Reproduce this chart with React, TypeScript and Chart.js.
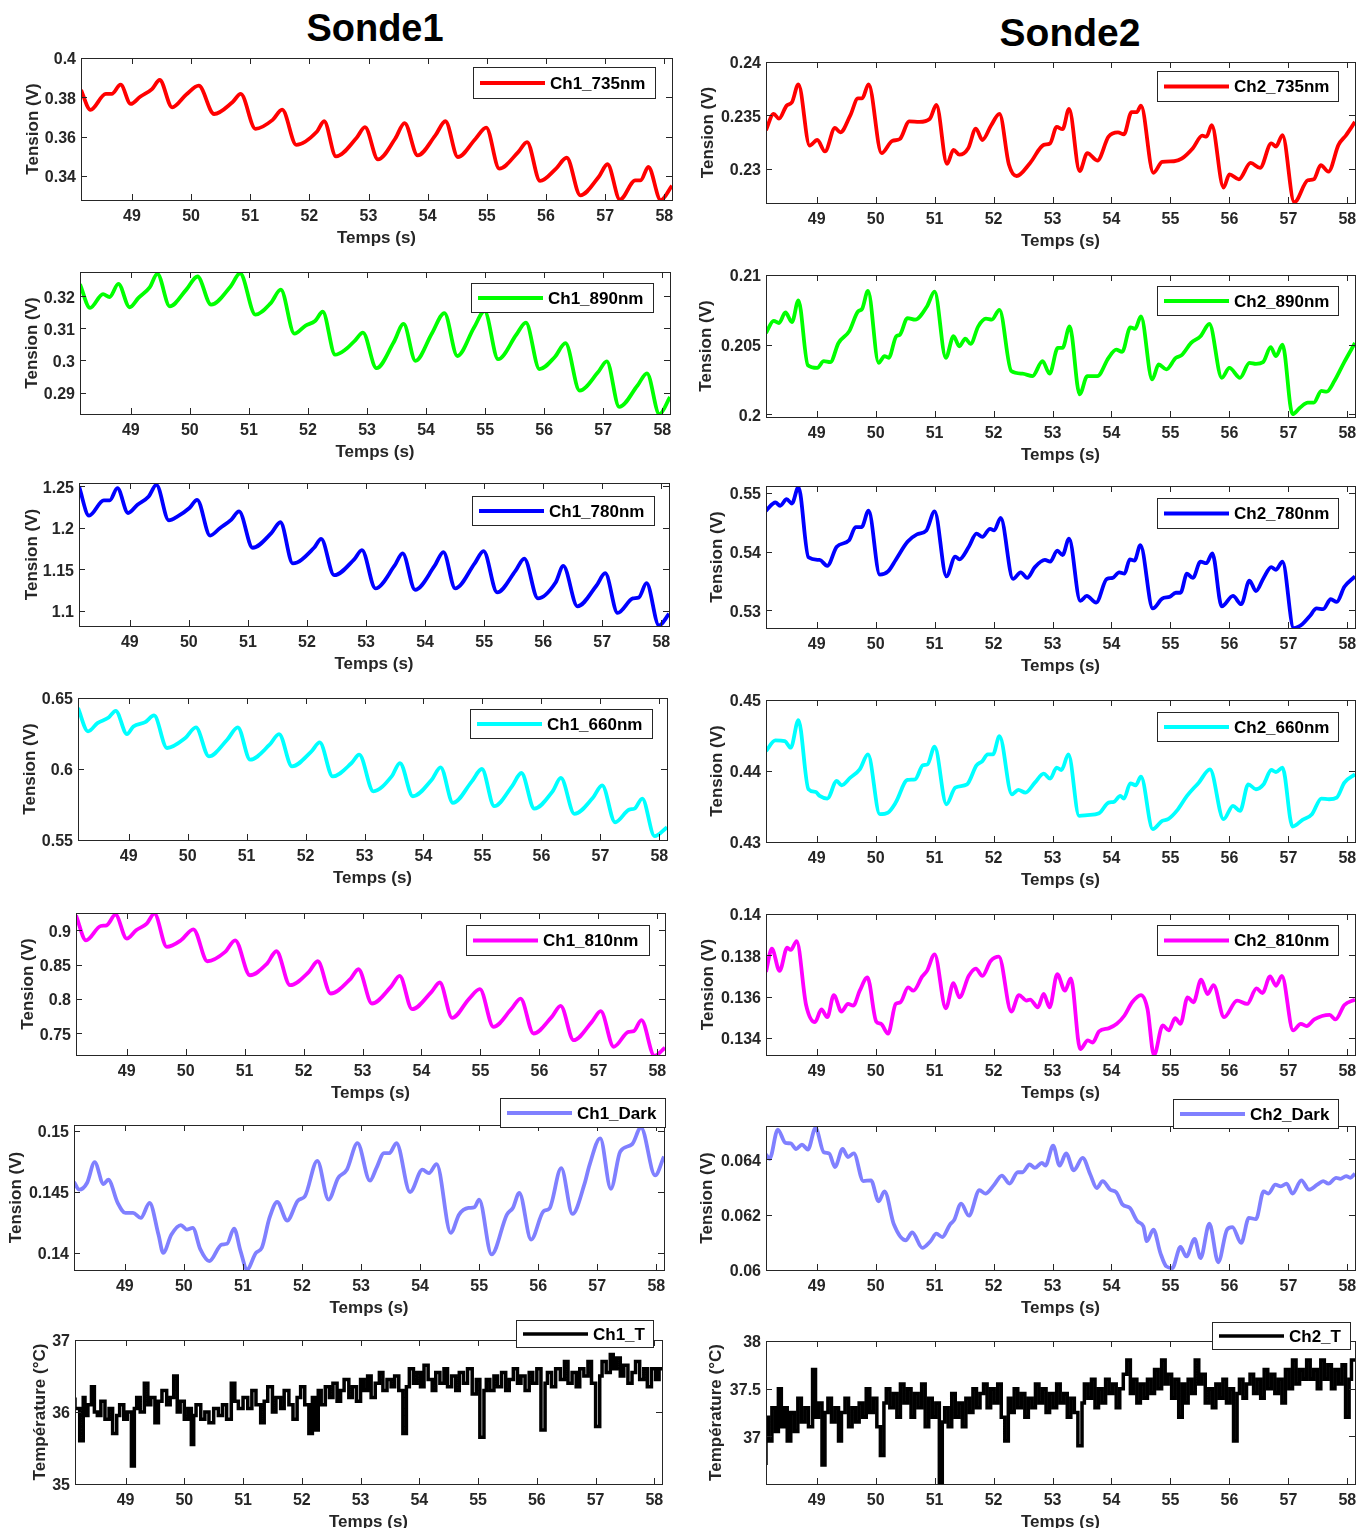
import React, { useEffect, useRef } from "react";
import { Chart, registerables } from "chart.js";

Chart.register(...registerables);

const FONT = "'Liberation Sans', Arial, Helvetica, sans-serif";
const AXIS_COLOR = "#262626";

// ---------- shared axis data ----------
const timeMin = 48.14;
const timeMax = 58.13;
const timeTicks = [49, 50, 51, 52, 53, 54, 55, 56, 57, 58];

// ---------- Sonde1 series: [time (s), value] ----------
const ch1_735nm: [number, number][] = [
  [48.14, 0.3837], [48.3, 0.3736], [48.56, 0.3817], [48.66, 0.3817], [48.81, 0.3864], [48.98, 0.3766],
  [49.14, 0.3803], [49.34, 0.3842], [49.47, 0.3888], [49.68, 0.3749], [49.92, 0.3814], [50.13, 0.3859],
  [50.39, 0.3715], [50.7, 0.3775], [50.84, 0.3817], [51.09, 0.3639], [51.38, 0.3685], [51.54, 0.3737],
  [51.78, 0.3558], [52.13, 0.3626], [52.25, 0.3678], [52.45, 0.3499], [52.8, 0.3594], [52.94, 0.3648],
  [53.16, 0.3484], [53.45, 0.3589], [53.61, 0.3668], [53.83, 0.3504], [54.13, 0.3606], [54.3, 0.3678],
  [54.51, 0.3496], [54.81, 0.3589], [54.99, 0.3645], [55.21, 0.3437], [55.53, 0.3521], [55.68, 0.3572],
  [55.9, 0.3374], [56.17, 0.3437], [56.35, 0.3492], [56.58, 0.3301], [56.89, 0.3394], [57.04, 0.3459],
  [57.25, 0.3279], [57.51, 0.3377], [57.6, 0.3377], [57.73, 0.3445], [57.94, 0.3276], [58.13, 0.335],
];
const ch1_890nm: [number, number][] = [
  [48.14, 0.3238], [48.31, 0.3164], [48.53, 0.3207], [48.64, 0.3198], [48.79, 0.3239], [48.98, 0.3166],
  [49.13, 0.3195], [49.32, 0.3228], [49.45, 0.327], [49.66, 0.3169], [49.94, 0.3221], [50.13, 0.3262],
  [50.36, 0.3174], [50.69, 0.3231], [50.85, 0.3272], [51.11, 0.3143], [51.37, 0.3179], [51.54, 0.3221],
  [51.77, 0.3084], [51.96, 0.3109], [52.12, 0.3123], [52.25, 0.3152], [52.46, 0.3018], [52.64, 0.3035],
  [52.8, 0.3063], [52.93, 0.3087], [53.16, 0.2976], [53.45, 0.3056], [53.62, 0.3114], [53.82, 0.2999],
  [54.1, 0.3085], [54.31, 0.3148], [54.53, 0.3014], [54.81, 0.3102], [54.99, 0.3154], [55.22, 0.3004],
  [55.53, 0.3081], [55.69, 0.3118], [55.92, 0.2973], [56.18, 0.3011], [56.36, 0.3054], [56.6, 0.2906],
  [56.91, 0.2963], [57.06, 0.2997], [57.27, 0.2855], [57.58, 0.2922], [57.74, 0.296], [57.95, 0.2832],
  [58.13, 0.2886],
];
const ch1_780nm: [number, number][] = [
  [48.14, 1.2498], [48.31, 1.2147], [48.56, 1.233], [48.66, 1.233], [48.79, 1.2478], [48.97, 1.2179],
  [49.13, 1.2279], [49.32, 1.2378], [49.45, 1.2517], [49.66, 1.2092], [49.81, 1.2139], [50.01, 1.2239],
  [50.14, 1.2338], [50.36, 1.1908], [50.53, 1.2], [50.72, 1.21], [50.85, 1.2199], [51.08, 1.1761],
  [51.4, 1.194], [51.55, 1.2068], [51.76, 1.1574], [52.12, 1.1761], [52.24, 1.1869], [52.46, 1.1431],
  [52.8, 1.1622], [52.93, 1.1733], [53.16, 1.1272], [53.48, 1.1542], [53.62, 1.1694], [53.83, 1.1256],
  [54.16, 1.1542], [54.31, 1.1709], [54.51, 1.1272], [54.84, 1.1574], [54.99, 1.1721], [55.22, 1.1224],
  [55.53, 1.1483], [55.68, 1.163], [55.91, 1.1152], [56.21, 1.1343], [56.34, 1.1542], [56.58, 1.1057],
  [56.9, 1.1304], [57.05, 1.1455], [57.26, 1.0977], [57.52, 1.1152], [57.62, 1.1164], [57.75, 1.1335],
  [57.96, 1.0826], [58.13, 1.0966],
];
const ch1_660nm: [number, number][] = [
  [48.14, 0.6429], [48.31, 0.6265], [48.47, 0.6323], [48.66, 0.6363], [48.78, 0.641], [48.97, 0.6246],
  [49.08, 0.63], [49.28, 0.633], [49.43, 0.6377], [49.65, 0.6148], [49.96, 0.6218], [50.14, 0.6293],
  [50.36, 0.6089], [50.67, 0.6206], [50.85, 0.6293], [51.06, 0.6066], [51.39, 0.6171], [51.55, 0.6246],
  [51.77, 0.6019], [52.1, 0.6124], [52.24, 0.6187], [52.46, 0.5948], [52.78, 0.6042], [52.91, 0.6101],
  [53.15, 0.5843], [53.46, 0.5948], [53.6, 0.6042], [53.82, 0.5808], [54.14, 0.5925], [54.29, 0.6012],
  [54.5, 0.5761], [54.82, 0.5913], [54.99, 0.6], [55.2, 0.5738], [55.5, 0.5878], [55.66, 0.5972],
  [55.88, 0.5721], [56.19, 0.5843], [56.33, 0.5937], [56.56, 0.5684], [56.87, 0.5796], [57.03, 0.5885],
  [57.25, 0.5625], [57.49, 0.5714], [57.58, 0.5721], [57.71, 0.5792], [57.92, 0.5527], [58.13, 0.559],
];
const ch1_810nm: [number, number][] = [
  [48.14, 0.9216], [48.31, 0.8853], [48.56, 0.9061], [48.66, 0.9071], [48.81, 0.9226], [49.0, 0.8878],
  [49.16, 0.8999], [49.34, 0.9095], [49.47, 0.9241], [49.68, 0.8757], [49.92, 0.8853], [50.13, 0.9013],
  [50.37, 0.8548], [50.67, 0.8684], [50.84, 0.8853], [51.09, 0.8345], [51.38, 0.8515], [51.54, 0.8694],
  [51.77, 0.82], [52.09, 0.8394], [52.24, 0.8548], [52.46, 0.8079], [52.8, 0.8297], [52.93, 0.8432],
  [53.16, 0.7934], [53.48, 0.8176], [53.63, 0.8335], [53.84, 0.7851], [54.17, 0.8103], [54.31, 0.8239],
  [54.52, 0.7726], [54.81, 0.8006], [54.99, 0.8142], [55.22, 0.7595], [55.53, 0.7861], [55.68, 0.8006],
  [55.9, 0.7498], [56.21, 0.774], [56.36, 0.79], [56.58, 0.7401], [56.89, 0.7667], [57.04, 0.7822],
  [57.26, 0.7305], [57.51, 0.7522], [57.6, 0.7532], [57.73, 0.7692], [57.95, 0.7174], [58.13, 0.729],
];
const ch1_dark: [number, number][] = [
  [48.14, 0.14582], [48.23, 0.14519], [48.36, 0.14574], [48.49, 0.14745], [48.64, 0.14565], [48.72, 0.14601],
  [48.88, 0.1441], [49.01, 0.14328], [49.14, 0.14328], [49.27, 0.14287], [49.42, 0.1441], [49.57, 0.14151],
  [49.65, 0.14001], [49.79, 0.14151], [49.95, 0.14228], [50.05, 0.14192], [50.15, 0.14206], [50.28, 0.14029],
  [50.43, 0.13933], [50.64, 0.14069], [50.73, 0.14075], [50.85, 0.142], [50.96, 0.14015], [51.07, 0.13865],
  [51.22, 0.14001], [51.32, 0.14042], [51.45, 0.14287], [51.58, 0.14418], [51.75, 0.14266], [51.93, 0.14429],
  [52.05, 0.14465], [52.26, 0.14756], [52.45, 0.14437], [52.61, 0.14614], [52.76, 0.14683], [52.94, 0.14901],
  [53.15, 0.14593], [53.26, 0.14696], [53.39, 0.14819], [53.48, 0.14819], [53.6, 0.14901], [53.83, 0.145],
  [54.04, 0.14683], [54.15, 0.14655], [54.28, 0.14729], [54.52, 0.14165], [54.66, 0.14315], [54.82, 0.14369],
  [54.92, 0.14375], [55.0, 0.14437], [55.21, 0.13988], [55.47, 0.14315], [55.57, 0.14369], [55.68, 0.14492],
  [55.88, 0.1411], [56.09, 0.14342], [56.19, 0.14364], [56.39, 0.14696], [56.58, 0.1432], [56.78, 0.1456],
  [56.87, 0.14723], [57.05, 0.14941], [57.23, 0.14527], [57.39, 0.14832], [57.59, 0.14892], [57.74, 0.15029],
  [57.98, 0.14636], [58.13, 0.14792],
];
const ch1_T: [number, number][] = [
  [48.14, 36.2], [48.22, 36.05], [48.28, 35.6], [48.31, 36.2], [48.36, 35.95], [48.42, 36.1], [48.47, 36.35],
  [48.52, 36.0], [48.58, 35.95], [48.65, 36.15], [48.72, 35.9], [48.78, 36.05], [48.85, 35.7], [48.9, 35.95],
  [48.97, 36.1], [49.03, 35.9], [49.1, 36.0], [49.15, 35.25], [49.19, 36.05], [49.25, 36.2], [49.32, 36.0],
  [49.38, 36.4], [49.43, 36.1], [49.5, 36.2], [49.56, 35.85], [49.62, 36.15], [49.7, 36.3], [49.76, 36.1],
  [49.82, 36.2], [49.88, 36.5], [49.93, 36.0], [50.0, 36.15], [50.06, 35.9], [50.12, 36.05], [50.16, 35.55],
  [50.2, 35.95], [50.28, 36.1], [50.35, 35.9], [50.42, 36.0], [50.5, 35.85], [50.58, 36.05], [50.65, 35.95],
  [50.72, 36.1], [50.8, 35.9], [50.86, 36.4], [50.92, 36.15], [51.0, 36.05], [51.08, 36.2], [51.15, 36.05],
  [51.22, 36.3], [51.3, 36.1], [51.36, 35.85], [51.42, 36.15], [51.5, 36.35], [51.56, 36.0], [51.64, 36.2],
  [51.7, 36.05], [51.78, 36.3], [51.85, 36.1], [51.92, 35.9], [51.98, 36.2], [52.05, 36.35], [52.12, 36.1],
  [52.18, 35.7], [52.22, 36.2], [52.28, 35.75], [52.33, 36.3], [52.4, 36.1], [52.47, 36.35], [52.53, 36.2],
  [52.6, 36.4], [52.66, 36.15], [52.72, 36.3], [52.8, 36.45], [52.86, 36.2], [52.93, 36.35], [53.0, 36.15],
  [53.06, 36.45], [53.12, 36.3], [53.18, 36.5], [53.25, 36.2], [53.32, 36.4], [53.38, 36.55], [53.45, 36.3],
  [53.52, 36.45], [53.58, 36.35], [53.65, 36.5], [53.72, 36.3], [53.78, 35.7], [53.83, 36.35], [53.9, 36.6],
  [53.96, 36.4], [54.02, 36.55], [54.08, 36.35], [54.15, 36.65], [54.22, 36.45], [54.28, 36.3], [54.35, 36.55],
  [54.42, 36.4], [54.48, 36.6], [54.55, 36.35], [54.62, 36.5], [54.68, 36.3], [54.75, 36.55], [54.82, 36.4],
  [54.9, 36.6], [54.97, 36.25], [55.03, 36.45], [55.1, 35.65], [55.14, 36.3], [55.2, 36.45], [55.27, 36.3],
  [55.33, 36.5], [55.4, 36.35], [55.47, 36.55], [55.53, 36.3], [55.6, 36.45], [55.67, 36.6], [55.73, 36.4],
  [55.8, 36.5], [55.87, 36.3], [55.93, 36.55], [56.0, 36.4], [56.07, 36.6], [56.14, 35.75], [56.18, 36.4],
  [56.25, 36.55], [56.32, 36.35], [56.4, 36.6], [56.47, 36.45], [56.53, 36.7], [56.6, 36.4], [56.67, 36.55],
  [56.73, 36.35], [56.8, 36.6], [56.87, 36.5], [56.93, 36.7], [57.0, 36.4], [57.07, 35.8], [57.11, 36.5],
  [57.18, 36.7], [57.25, 36.55], [57.3, 36.8], [57.36, 36.6], [57.42, 36.75], [57.48, 36.5], [57.55, 36.65],
  [57.62, 36.4], [57.68, 36.55], [57.75, 36.7], [57.82, 36.45], [57.88, 36.6], [57.95, 36.35], [58.02, 36.6],
  [58.08, 36.45], [58.13, 36.6],
];

// ---------- Sonde2 series: [time (s), value] ----------
const ch2_735nm: [number, number][] = [
  [48.14, 0.23362], [48.27, 0.23515], [48.36, 0.23469], [48.49, 0.23592], [48.58, 0.23623], [48.69, 0.23791],
  [48.88, 0.23218], [49.01, 0.2327], [49.14, 0.23163], [49.31, 0.23383], [49.4, 0.23341], [49.57, 0.235],
  [49.7, 0.23659], [49.77, 0.23659], [49.88, 0.23791], [50.1, 0.23147], [50.28, 0.23261], [50.41, 0.23279],
  [50.57, 0.23445], [50.74, 0.23439], [50.92, 0.23469], [51.03, 0.23598], [51.21, 0.23046], [51.32, 0.23178],
  [51.42, 0.23132], [51.57, 0.23193], [51.7, 0.23377], [51.81, 0.2327], [51.96, 0.23408], [52.1, 0.23515],
  [52.26, 0.2304], [52.39, 0.22933], [52.62, 0.23055], [52.85, 0.23224], [52.96, 0.23239], [53.07, 0.23393],
  [53.17, 0.23371], [53.28, 0.23561], [53.46, 0.22979], [53.59, 0.23147], [53.76, 0.23077], [53.95, 0.23301],
  [54.11, 0.23341], [54.21, 0.23322], [54.34, 0.23531], [54.43, 0.23531], [54.5, 0.23592], [54.71, 0.22963],
  [54.86, 0.23064], [55.06, 0.23071], [55.19, 0.23095], [55.38, 0.23193], [55.54, 0.2331], [55.61, 0.23301],
  [55.7, 0.23408], [55.9, 0.22825], [56.0, 0.22948], [56.16, 0.22902], [56.36, 0.23055], [56.52, 0.23009],
  [56.71, 0.23239], [56.79, 0.23209], [56.9, 0.23316], [57.1, 0.22687], [57.33, 0.22893], [57.43, 0.22902],
  [57.55, 0.23034], [57.68, 0.22973], [57.85, 0.23224], [57.98, 0.23316], [58.13, 0.23439],
];
const ch2_890nm: [number, number][] = [
  [48.14, 0.20583], [48.27, 0.20671], [48.36, 0.20655], [48.47, 0.20731], [48.58, 0.20662], [48.69, 0.20817],
  [48.85, 0.20352], [49.01, 0.20333], [49.12, 0.20381], [49.23, 0.20374], [49.37, 0.20512], [49.55, 0.20595],
  [49.7, 0.20738], [49.77, 0.20757], [49.87, 0.20886], [50.05, 0.20369], [50.15, 0.20417], [50.22, 0.20405],
  [50.35, 0.2056], [50.41, 0.20571], [50.54, 0.2069], [50.67, 0.20679], [50.87, 0.20774], [51.0, 0.20881],
  [51.19, 0.20405], [51.32, 0.2056], [51.42, 0.20488], [51.52, 0.20543], [51.61, 0.20505], [51.74, 0.20631],
  [51.87, 0.20686], [51.97, 0.20679], [52.1, 0.2075], [52.3, 0.2031], [52.49, 0.20291], [52.66, 0.20274],
  [52.83, 0.20381], [52.95, 0.20291], [53.09, 0.20476], [53.17, 0.20476], [53.29, 0.20631], [53.46, 0.20143],
  [53.59, 0.20274], [53.76, 0.20274], [53.95, 0.20405], [54.08, 0.20464], [54.18, 0.20448], [54.32, 0.20624],
  [54.4, 0.20614], [54.5, 0.20702], [54.69, 0.2025], [54.8, 0.20357], [54.93, 0.20322], [55.09, 0.20405],
  [55.19, 0.20424], [55.35, 0.20512], [55.51, 0.2056], [55.66, 0.20648], [55.87, 0.20262], [56.0, 0.20333],
  [56.18, 0.20262], [56.34, 0.20369], [56.45, 0.20362], [56.57, 0.20374], [56.7, 0.20481], [56.79, 0.20417],
  [56.9, 0.205], [57.07, 0.2], [57.2, 0.20048], [57.33, 0.20083], [57.43, 0.20083], [57.56, 0.20167],
  [57.65, 0.20162], [57.78, 0.20238], [57.95, 0.20376], [58.13, 0.20512],
];
const ch2_780nm: [number, number][] = [
  [48.14, 0.54699], [48.3, 0.54839], [48.38, 0.54783], [48.49, 0.54894], [48.58, 0.54822], [48.69, 0.55101],
  [48.86, 0.53905], [49.05, 0.5386], [49.18, 0.5376], [49.34, 0.54084], [49.55, 0.54196], [49.66, 0.54419],
  [49.76, 0.54419], [49.88, 0.54699], [50.07, 0.53609], [50.21, 0.53665], [50.34, 0.5386], [50.54, 0.54168],
  [50.7, 0.54296], [50.86, 0.54363], [51.0, 0.54688], [51.2, 0.53581], [51.35, 0.53916], [51.42, 0.53871],
  [51.58, 0.54084], [51.71, 0.54307], [51.81, 0.54252], [51.94, 0.54391], [52.01, 0.54363], [52.12, 0.54576],
  [52.33, 0.53536], [52.46, 0.53648], [52.57, 0.53553], [52.7, 0.53737], [52.87, 0.5386], [52.96, 0.53832],
  [53.08, 0.54017], [53.17, 0.53944], [53.28, 0.54224], [53.47, 0.53162], [53.58, 0.53246], [53.74, 0.53134],
  [53.92, 0.53536], [54.02, 0.53553], [54.13, 0.53648], [54.22, 0.53625], [54.31, 0.53871], [54.39, 0.53849],
  [54.49, 0.54112], [54.7, 0.53033], [54.86, 0.53201], [54.99, 0.53234], [55.09, 0.53301], [55.17, 0.53301],
  [55.28, 0.53625], [55.38, 0.53553], [55.51, 0.53832], [55.61, 0.53804], [55.71, 0.53972], [55.87, 0.53067],
  [56.06, 0.53246], [56.2, 0.53106], [56.34, 0.53508], [56.45, 0.53329], [56.58, 0.53553], [56.71, 0.53737],
  [56.79, 0.53693], [56.9, 0.53832], [57.09, 0.52698], [57.24, 0.5277], [57.36, 0.52899], [57.48, 0.53033],
  [57.59, 0.53022], [57.72, 0.5319], [57.82, 0.53145], [57.95, 0.53402], [58.13, 0.53581],
];
const ch2_660nm: [number, number][] = [
  [48.14, 0.44281], [48.3, 0.44431], [48.46, 0.44421], [48.56, 0.44328], [48.69, 0.44716], [48.86, 0.43743],
  [48.98, 0.43705], [49.05, 0.43649], [49.18, 0.43612], [49.34, 0.4386], [49.42, 0.43799], [49.57, 0.43906],
  [49.73, 0.44023], [49.87, 0.44234], [50.07, 0.43392], [50.21, 0.43415], [50.34, 0.43555], [50.54, 0.43874],
  [50.67, 0.43883], [50.8, 0.4408], [50.88, 0.44094], [51.0, 0.44342], [51.2, 0.43532], [51.35, 0.43766],
  [51.55, 0.43813], [51.71, 0.4408], [51.81, 0.4414], [51.9, 0.44234], [51.99, 0.44234], [52.1, 0.44491],
  [52.31, 0.43672], [52.42, 0.43733], [52.54, 0.43696], [52.7, 0.43836], [52.85, 0.43963], [52.96, 0.43892],
  [53.07, 0.44047], [53.15, 0.44014], [53.27, 0.44234], [53.45, 0.43368], [53.59, 0.43378], [53.79, 0.43406],
  [53.95, 0.43555], [54.04, 0.43565], [54.15, 0.43649], [54.21, 0.43612], [54.32, 0.43827], [54.41, 0.43799],
  [54.5, 0.4392], [54.7, 0.43181], [54.86, 0.43298], [54.96, 0.43321], [55.12, 0.43452], [55.28, 0.43649],
  [55.48, 0.43836], [55.67, 0.44023], [55.9, 0.43321], [56.06, 0.43509], [56.18, 0.43438], [56.32, 0.43813],
  [56.45, 0.43743], [56.58, 0.43813], [56.71, 0.44014], [56.79, 0.43986], [56.9, 0.44047], [57.07, 0.43218],
  [57.24, 0.43312], [57.4, 0.43392], [57.56, 0.43612], [57.69, 0.43602], [57.82, 0.43626], [57.95, 0.43836],
  [58.13, 0.43953],
];
const ch2_810nm: [number, number][] = [
  [48.14, 0.1372], [48.24, 0.13832], [48.37, 0.13725], [48.5, 0.13837], [48.56, 0.13826], [48.66, 0.13869],
  [48.82, 0.1356], [48.97, 0.13477], [49.08, 0.13538], [49.18, 0.13501], [49.29, 0.13608], [49.42, 0.13528],
  [49.53, 0.13565], [49.62, 0.13557], [49.73, 0.13629], [49.86, 0.13693], [50.01, 0.1348], [50.09, 0.13469],
  [50.21, 0.13421], [50.34, 0.13565], [50.42, 0.13573], [50.55, 0.13645], [50.64, 0.13629], [50.79, 0.13698],
  [50.87, 0.13725], [51.0, 0.13805], [51.19, 0.13544], [51.32, 0.13666], [51.42, 0.13597], [51.58, 0.13701],
  [51.7, 0.13736], [51.81, 0.13701], [51.95, 0.13773], [52.09, 0.13794], [52.3, 0.13528], [52.43, 0.13608],
  [52.56, 0.13581], [52.62, 0.13586], [52.75, 0.13549], [52.85, 0.13613], [52.95, 0.13549], [53.08, 0.13709],
  [53.21, 0.13629], [53.31, 0.13688], [53.47, 0.13346], [53.6, 0.13389], [53.68, 0.13378], [53.79, 0.13432],
  [53.96, 0.13448], [54.09, 0.13469], [54.22, 0.13509], [54.35, 0.13573], [54.5, 0.13608], [54.61, 0.13541],
  [54.72, 0.13317], [54.87, 0.13461], [54.97, 0.13437], [55.08, 0.13496], [55.17, 0.13469], [55.29, 0.13597],
  [55.39, 0.13573], [55.52, 0.13682], [55.63, 0.13613], [55.73, 0.13656], [55.91, 0.13501], [56.13, 0.13581],
  [56.3, 0.13565], [56.46, 0.1364], [56.56, 0.13618], [56.69, 0.13698], [56.79, 0.13653], [56.89, 0.13701],
  [57.08, 0.13437], [57.21, 0.13469], [57.31, 0.13458], [57.44, 0.1349], [57.7, 0.13512], [57.8, 0.1349],
  [57.95, 0.1356], [58.13, 0.13586],
];
const ch2_dark: [number, number][] = [
  [48.14, 0.06417], [48.2, 0.06401], [48.34, 0.06507], [48.47, 0.06459], [48.56, 0.06457], [48.65, 0.06437],
  [48.75, 0.06453], [48.85, 0.06435], [48.98, 0.06513], [49.12, 0.06425], [49.21, 0.06421], [49.31, 0.06372],
  [49.44, 0.06437], [49.53, 0.06408], [49.63, 0.06421], [49.79, 0.06321], [49.92, 0.06324], [50.05, 0.06248],
  [50.15, 0.06284], [50.31, 0.06164], [50.51, 0.06107], [50.62, 0.06136], [50.79, 0.0608], [50.93, 0.06104],
  [51.03, 0.06131], [51.13, 0.06119], [51.26, 0.06164], [51.33, 0.0618], [51.45, 0.0624], [51.58, 0.06196],
  [51.76, 0.06288], [51.86, 0.06276], [52.01, 0.06308], [52.14, 0.06341], [52.27, 0.06312], [52.41, 0.06353],
  [52.49, 0.06353], [52.61, 0.06381], [52.7, 0.06369], [52.82, 0.06387], [52.88, 0.06377], [53.01, 0.06449],
  [53.12, 0.06377], [53.23, 0.06421], [53.36, 0.0636], [53.51, 0.06405], [53.64, 0.06345], [53.75, 0.06296],
  [53.85, 0.06321], [53.98, 0.0629], [54.08, 0.06281], [54.19, 0.06236], [54.31, 0.06224], [54.44, 0.06176],
  [54.54, 0.06158], [54.6, 0.06104], [54.71, 0.06146], [54.83, 0.06061], [54.93, 0.06013], [55.03, 0.06007],
  [55.17, 0.06083], [55.27, 0.06049], [55.41, 0.06112], [55.51, 0.06043], [55.66, 0.06167], [55.81, 0.06028],
  [55.96, 0.06146], [56.05, 0.06155], [56.2, 0.06098], [56.33, 0.06188], [56.45, 0.06184], [56.58, 0.06284],
  [56.66, 0.06276], [56.78, 0.06308], [56.87, 0.06302], [56.97, 0.06312], [57.07, 0.06276], [57.22, 0.06324],
  [57.35, 0.0629], [57.49, 0.06308], [57.59, 0.06321], [57.68, 0.06312], [57.81, 0.06333], [57.88, 0.06329],
  [57.98, 0.06339], [58.05, 0.06333], [58.13, 0.06348],
];
const ch2_T: [number, number][] = [
  [48.14, 36.7], [48.18, 37.2], [48.24, 36.95], [48.3, 37.3], [48.35, 37.05], [48.4, 37.5], [48.45, 37.1],
  [48.5, 37.3], [48.56, 36.95], [48.62, 37.25], [48.68, 37.05], [48.74, 37.4], [48.8, 37.15], [48.86, 37.3],
  [48.93, 37.1], [48.98, 37.7], [49.03, 37.2], [49.09, 37.35], [49.14, 36.7], [49.19, 37.25], [49.25, 37.4],
  [49.31, 37.15], [49.37, 37.3], [49.42, 36.95], [49.48, 37.25], [49.54, 37.4], [49.6, 37.1], [49.66, 37.3],
  [49.72, 37.15], [49.78, 37.35], [49.84, 37.2], [49.9, 37.5], [49.96, 37.25], [50.02, 37.4], [50.08, 37.1],
  [50.14, 36.8], [50.18, 37.35], [50.24, 37.5], [50.3, 37.3], [50.36, 37.45], [50.42, 37.2], [50.48, 37.55],
  [50.54, 37.35], [50.6, 37.5], [50.66, 37.2], [50.72, 37.45], [50.78, 37.3], [50.84, 37.55], [50.9, 37.1],
  [50.96, 37.4], [51.02, 37.2], [51.08, 37.35], [51.13, 36.5], [51.17, 37.15], [51.23, 37.3], [51.29, 37.1],
  [51.35, 37.45], [51.41, 37.2], [51.47, 37.35], [51.53, 37.1], [51.59, 37.4], [51.65, 37.25], [51.71, 37.5],
  [51.77, 37.3], [51.83, 37.45], [51.89, 37.55], [51.95, 37.3], [52.01, 37.5], [52.07, 37.35], [52.13, 37.55],
  [52.19, 37.2], [52.25, 36.95], [52.29, 37.4], [52.35, 37.25], [52.41, 37.5], [52.47, 37.3], [52.53, 37.45],
  [52.59, 37.2], [52.65, 37.4], [52.71, 37.3], [52.77, 37.55], [52.83, 37.35], [52.89, 37.5], [52.95, 37.25],
  [53.01, 37.45], [53.07, 37.3], [53.13, 37.55], [53.19, 37.35], [53.25, 37.45], [53.31, 37.2], [53.37, 37.4],
  [53.43, 37.25], [53.5, 36.9], [53.54, 37.35], [53.6, 37.55], [53.66, 37.4], [53.72, 37.6], [53.78, 37.3],
  [53.84, 37.5], [53.9, 37.35], [53.96, 37.6], [54.02, 37.45], [54.08, 37.55], [54.14, 37.3], [54.2, 37.5],
  [54.26, 37.65], [54.32, 37.8], [54.37, 37.45], [54.43, 37.6], [54.49, 37.35], [54.55, 37.55], [54.61, 37.4],
  [54.67, 37.6], [54.73, 37.45], [54.79, 37.7], [54.85, 37.5], [54.91, 37.8], [54.96, 37.55], [55.02, 37.65],
  [55.08, 37.4], [55.14, 37.6], [55.2, 37.2], [55.24, 37.55], [55.3, 37.35], [55.36, 37.6], [55.42, 37.45],
  [55.48, 37.8], [55.53, 37.55], [55.59, 37.65], [55.65, 37.35], [55.71, 37.5], [55.77, 37.3], [55.83, 37.55],
  [55.89, 37.4], [55.95, 37.6], [56.01, 37.35], [56.07, 37.5], [56.13, 36.95], [56.17, 37.45], [56.23, 37.6],
  [56.29, 37.4], [56.35, 37.55], [56.41, 37.65], [56.47, 37.45], [56.53, 37.6], [56.59, 37.4], [56.65, 37.7],
  [56.71, 37.5], [56.77, 37.65], [56.83, 37.45], [56.89, 37.6], [56.95, 37.35], [57.01, 37.7], [57.07, 37.5],
  [57.13, 37.8], [57.19, 37.55], [57.25, 37.7], [57.31, 37.6], [57.37, 37.8], [57.43, 37.6], [57.49, 37.7],
  [57.55, 37.5], [57.61, 37.8], [57.67, 37.6], [57.73, 37.75], [57.79, 37.5], [57.85, 37.7], [57.91, 37.55],
  [57.97, 37.75], [58.03, 37.2], [58.07, 37.6], [58.11, 37.8], [58.13, 37.8],
];

// ---------- y tick values ----------
const ticks_ch1_735 = [0.34, 0.36, 0.38, 0.4];
const ticks_ch1_890 = [0.29, 0.3, 0.31, 0.32];
const ticks_ch1_780 = [1.1, 1.15, 1.2, 1.25];
const ticks_ch1_660 = [0.55, 0.6, 0.65];
const ticks_ch1_810 = [0.75, 0.8, 0.85, 0.9];
const ticks_ch1_dark = [0.14, 0.145, 0.15];
const ticks_ch1_T = [35, 36, 37];
const ticks_ch2_735 = [0.23, 0.235, 0.24];
const ticks_ch2_890 = [0.2, 0.205, 0.21];
const ticks_ch2_780 = [0.53, 0.54, 0.55];
const ticks_ch2_660 = [0.43, 0.44, 0.45];
const ticks_ch2_810 = [0.134, 0.136, 0.138, 0.14];
const ticks_ch2_dark = [0.06, 0.062, 0.064];
const ticks_ch2_T = [37, 37.5, 38];

const TENSION = "Tension (V)";
const TEMPERATURE = "Température (°C)";

type PanelCfg = {
  label: string;
  color: string;
  data: [number, number][];
  yMin: number;
  yMax: number;
  yTicks: number[];
  yTitle: string;
  stepped: boolean;
  plot: [number, number, number, number];
  yTitleX: number;
  legend: [number, number, number, number];
};

const panels: PanelCfg[] = [
  { label: "Ch1_735nm", color: "#FF0000", data: ch1_735nm, yMin: 0.3277, yMax: 0.4, yTicks: ticks_ch1_735, yTitle: TENSION, stepped: false, plot: [81, 58, 672, 200], yTitleX: 33, legend: [473, 67, 655, 98] },
  { label: "Ch1_890nm", color: "#00FF00", data: ch1_890nm, yMin: 0.2833, yMax: 0.3276, yTicks: ticks_ch1_890, yTitle: TENSION, stepped: false, plot: [80, 272, 670, 414], yTitleX: 32, legend: [471, 283, 653, 312] },
  { label: "Ch1_780nm", color: "#0000FF", data: ch1_780nm, yMin: 1.082, yMax: 1.254, yTicks: ticks_ch1_780, yTitle: TENSION, stepped: false, plot: [79, 483, 669, 626], yTitleX: 32, legend: [472, 496, 654, 525] },
  { label: "Ch1_660nm", color: "#00FFFF", data: ch1_660nm, yMin: 0.55, yMax: 0.65, yTicks: ticks_ch1_660, yTitle: TENSION, stepped: false, plot: [78, 698, 667, 840], yTitleX: 30, legend: [470, 709, 652, 738] },
  { label: "Ch1_810nm", color: "#FF00FF", data: ch1_810nm, yMin: 0.7185, yMax: 0.925, yTicks: ticks_ch1_810, yTitle: TENSION, stepped: false, plot: [76, 913, 665, 1055], yTitleX: 28, legend: [466, 925, 649, 955] },
  { label: "Ch1_Dark", color: "#8080FF", data: ch1_dark, yMin: 0.1386, yMax: 0.1505, yTicks: ticks_ch1_dark, yTitle: TENSION, stepped: false, plot: [74, 1125, 664, 1270], yTitleX: 16, legend: [500, 1098, 665, 1127] },
  { label: "Ch1_T", color: "#000000", data: ch1_T, yMin: 35, yMax: 37, yTicks: ticks_ch1_T, yTitle: TEMPERATURE, stepped: true, plot: [75, 1340, 662, 1484], yTitleX: 40, legend: [516, 1320, 653, 1347] },
  { label: "Ch2_735nm", color: "#FF0000", data: ch2_735nm, yMin: 0.2268, yMax: 0.24, yTicks: ticks_ch2_735, yTitle: TENSION, stepped: false, plot: [766, 62, 1355, 203], yTitleX: 708, legend: [1157, 71, 1338, 101] },
  { label: "Ch2_890nm", color: "#00FF00", data: ch2_890nm, yMin: 0.1998, yMax: 0.21, yTicks: ticks_ch2_890, yTitle: TENSION, stepped: false, plot: [766, 275, 1355, 417], yTitleX: 706, legend: [1157, 286, 1338, 315] },
  { label: "Ch2_780nm", color: "#0000FF", data: ch2_780nm, yMin: 0.527, yMax: 0.5512, yTicks: ticks_ch2_780, yTitle: TENSION, stepped: false, plot: [766, 486, 1355, 628], yTitleX: 717, legend: [1157, 498, 1338, 528] },
  { label: "Ch2_660nm", color: "#00FFFF", data: ch2_660nm, yMin: 0.43, yMax: 0.45, yTicks: ticks_ch2_660, yTitle: TENSION, stepped: false, plot: [766, 700, 1355, 842], yTitleX: 717, legend: [1157, 712, 1338, 741] },
  { label: "Ch2_810nm", color: "#FF00FF", data: ch2_810nm, yMin: 0.13318, yMax: 0.14, yTicks: ticks_ch2_810, yTitle: TENSION, stepped: false, plot: [766, 914, 1355, 1055], yTitleX: 708, legend: [1157, 925, 1338, 955] },
  { label: "Ch2_Dark", color: "#8080FF", data: ch2_dark, yMin: 0.06, yMax: 0.0652, yTicks: ticks_ch2_dark, yTitle: TENSION, stepped: false, plot: [766, 1126, 1355, 1270], yTitleX: 707, legend: [1173, 1099, 1338, 1128] },
  { label: "Ch2_T", color: "#000000", data: ch2_T, yMin: 36.5, yMax: 38, yTicks: ticks_ch2_T, yTitle: TEMPERATURE, stepped: true, plot: [766, 1341, 1355, 1484], yTitleX: 716, legend: [1212, 1322, 1350, 1349] },
];

const AXW = 72;
const TOPPAD = 40;
const RIGHTPAD = 14;
const XAXH = 49;
const TITLE_SIZE = 17;

function fmt(v: number): string {
  return String(+Number(v).toFixed(4));
}

function PanelChart({ p }: { p: PanelCfg }) {
  const ref = useRef<HTMLCanvasElement | null>(null);
  const [pl, pt, pr, pb] = p.plot;
  const cl = pl - AXW;
  const ct = pt - TOPPAD;
  const W = pr - pl + AXW + RIGHTPAD;
  const H = pb - pt + TOPPAD + XAXH;

  useEffect(() => {
    if (!ref.current) return;
    const lw = p.stepped ? 3.5 : 3.8;
    const decor = {
      id: "decor",
      afterDraw(chart: any) {
        const ctx = chart.ctx;
        const a = chart.chartArea;
        const xs = chart.scales.x;
        const ys = chart.scales.y;
        ctx.save();
        ctx.strokeStyle = AXIS_COLOR;
        ctx.lineWidth = 1;
        ctx.beginPath();
        xs.ticks.forEach((tk: any) => {
          const x = Math.round(xs.getPixelForValue(tk.value)) + 0.5;
          ctx.moveTo(x, a.bottom);
          ctx.lineTo(x, a.bottom - 6);
          ctx.moveTo(x, a.top);
          ctx.lineTo(x, a.top + 6);
        });
        ys.ticks.forEach((tk: any) => {
          const y = Math.round(ys.getPixelForValue(tk.value)) + 0.5;
          ctx.moveTo(a.left, y);
          ctx.lineTo(a.left + 6, y);
          ctx.moveTo(a.right, y);
          ctx.lineTo(a.right - 6, y);
        });
        ctx.stroke();
        ctx.strokeRect(Math.round(a.left) + 0.5, Math.round(a.top) + 0.5, Math.round(a.right - a.left), Math.round(a.bottom - a.top));
        // legend box
        const [l, t, r, b] = p.legend;
        const lx = l - cl;
        const ly = t - ct;
        const bw = r - l;
        const bh = b - t;
        ctx.fillStyle = "#ffffff";
        ctx.fillRect(lx, ly, bw, bh);
        ctx.strokeStyle = AXIS_COLOR;
        ctx.lineWidth = 1;
        ctx.strokeRect(lx + 0.5, ly + 0.5, bw, bh);
        const cy = ly + bh / 2 + 0.5;
        ctx.strokeStyle = p.color;
        ctx.lineWidth = lw;
        ctx.beginPath();
        ctx.moveTo(lx + 7, cy);
        ctx.lineTo(lx + 72, cy);
        ctx.stroke();
        ctx.fillStyle = "#000000";
        ctx.font = `bold 17px ${FONT}`;
        ctx.textBaseline = "middle";
        ctx.textAlign = "left";
        ctx.fillText(chart.data.datasets[0].label, lx + 77, cy + 1);
        ctx.restore();
      },
    };

    const tickFont = { family: FONT, size: 16, weight: "bold" as const };
    const titleFont = { family: FONT, size: TITLE_SIZE, weight: "bold" as const };
    const titleHalf = (TITLE_SIZE * 1.2) / 2;

    const chart = new Chart(ref.current, {
      type: "line",
      data: {
        datasets: [
          {
            label: p.label,
            data: p.data.map(([x, y]) => ({ x, y })),
            borderColor: p.color,
            backgroundColor: p.color,
            borderWidth: lw,
            pointRadius: 0,
            fill: false,
            stepped: p.stepped ? "after" : false,
            cubicInterpolationMode: p.stepped ? "default" : "monotone",
            clip: 0,
          } as any,
        ],
      },
      options: {
        responsive: false,
        animation: false,
        events: [],
        layout: { padding: { left: 0, top: TOPPAD, right: RIGHTPAD, bottom: 0 } },
        plugins: { legend: { display: false }, tooltip: { enabled: false }, title: { display: false } },
        scales: {
          x: {
            type: "linear",
            min: timeMin,
            max: timeMax,
            afterBuildTicks: (s: any) => {
              s.ticks = timeTicks.map((value) => ({ value }));
            },
            afterFit: (s: any) => {
              s.height = XAXH;
            },
            grid: { display: false, drawTicks: false },
            border: { display: false },
            ticks: {
              font: tickFont,
              color: AXIS_COLOR,
              padding: 7,
              autoSkip: false,
              maxRotation: 0,
              minRotation: 0,
              callback: (v: any) => fmt(v),
            },
            title: { display: true, text: "Temps (s)", font: titleFont, color: AXIS_COLOR, padding: { top: 0, bottom: 0 } },
          },
          y: {
            type: "linear",
            min: p.yMin,
            max: p.yMax,
            afterBuildTicks: (s: any) => {
              s.ticks = p.yTicks.map((value) => ({ value }));
            },
            afterFit: (s: any) => {
              s.width = AXW;
            },
            grid: { display: false, drawTicks: false },
            border: { display: false },
            ticks: {
              font: tickFont,
              color: AXIS_COLOR,
              padding: 5,
              labelOffset: 2,
              autoSkip: false,
              callback: (v: any) => fmt(v),
            },
            title: {
              display: true,
              text: p.yTitle,
              font: titleFont,
              color: AXIS_COLOR,
              padding: { top: Math.max(0, p.yTitleX - cl - titleHalf), bottom: 0 },
            },
          },
        },
      },
      plugins: [decor],
    } as any);
    return () => chart.destroy();
  }, []);

  return (
    <canvas
      ref={ref}
      width={W}
      height={H}
      style={{ position: "absolute", left: cl, top: ct, width: W, height: H, display: "block" }}
    />
  );
}

export default function App() {
  return (
    <div style={{ position: "absolute", left: 0, top: 0, width: 1372, height: 1528, overflow: "hidden", background: "#ffffff" }}>
      <div style={{ position: "absolute", left: 175, top: 9, width: 400, textAlign: "center", font: `bold 38px/38px ${FONT}`, color: "#000" }}>
        Sonde1
      </div>
      <div style={{ position: "absolute", left: 870, top: 13, width: 400, textAlign: "center", font: `bold 39px/39px ${FONT}`, color: "#000" }}>
        Sonde2
      </div>
      {panels.map((p) => (
        <PanelChart key={p.label} p={p} />
      ))}
    </div>
  );
}
